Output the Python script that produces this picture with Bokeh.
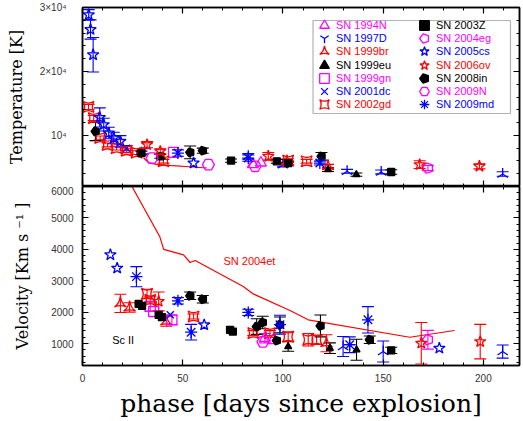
import math
from bokeh.plotting import figure
from bokeh.models import (ColumnDataSource, Whisker, TeeHead, LinearAxis, FixedTicker,
                          Legend, LegendItem, Range1d, BoxAnnotation, Label,
                          CustomLabelingPolicy)
from bokeh.layouts import column
from bokeh.embed import file_html
from bokeh.resources import INLINE

# ---------------- data ----------------
# Temperature panel (day, K, error) and velocity panel (day, km/s, error)
sn1994n_t_day = [85.0, 89.0]
sn1994n_t = [5450, 5700]
sn1994n_t_err = [0, 0]
sn1994n_v_day = [91.0, 95.0]
sn1994n_v = [1170, 1100]
sn1994n_v_err = [150, 0]

sn1997d_t_day = [82.7, 100.0, 132.0, 149.0, 209.6]
sn1997d_t = [6720, 5420, 4380, 4270, 3950]
sn1997d_t_err = [450, 350, 300, 300, 350]
sn1997d_v_day = [130.0, 150.0, 209.6]
sn1997d_v = [905, 745, 745]
sn1997d_v_err = [320, 335, 210]

sn1999br_t_day = [102.0, 122.5]
sn1999br_t = [5900, 5160]
sn1999br_t_err = [300, 300]
sn1999br_v_day = [18.9, 23.5, 41.8, 121.7]
sn1999br_v = [2280, 2150, 1700, 1010]
sn1999br_v_err = [290, 150, 150, 270]

sn1999eu_t_day = [122.5, 136.6]
sn1999eu_t = [4640, 3860]
sn1999eu_t_err = [300, 250]
sn1999eu_v_day = [102.6, 123.4, 136.7]
sn1999eu_v = [905, 850, 800]
sn1999eu_v_err = [150, 170, 335]

sn1999gn_t_day = [45.4]
sn1999gn_t = [7340]
sn1999gn_t_err = [0]
sn1999gn_v_day = [33.8, 35.5, 44.6]
sn1999gn_v = [2180, 2020, 1750]
sn1999gn_v_err = [150, 0, 150]

sn2001dc_t_day = [22.0, 30.0]
sn2001dc_t = [8000, 7500]
sn2001dc_t_err = [400, 400]
sn2001dc_v_day = [43.8]
sn2001dc_v = [1915]
sn2001dc_v_err = [0]

sn2002gd_t_day = [3.0, 5.6, 8.8, 12.5, 17.0, 22.0, 27.0, 40.4, 102.6, 111.8]
sn2002gd_t = [14450, 12700, 9600, 8500, 8000, 7600, 7300, 5950, 6050, 5950]
sn2002gd_t_err = [400, 400, 300, 300, 300, 300, 300, 300, 300, 300]
sn2002gd_v_day = [32.2, 33.8, 55.4, 85.2, 93.5, 102.6, 112.6, 116.8]
sn2002gd_v = [2580, 2390, 1860, 1330, 1330, 1220, 1120, 1120]
sn2002gd_v_err = [150, 100, 80, 80, 80, 150, 200, 150]

sn2003z_t_day = [29.4, 38.8, 74.1, 96.9, 102.6, 154.0]
sn2003z_t = [7230, 6720, 6050, 5940, 5670, 4270]
sn2003z_t_err = [300, 300, 250, 300, 300, 350]
sn2003z_v_day = [28.0, 29.7, 38.0, 39.6, 73.6, 75.0, 154.0]
sn2003z_v = [2260, 2200, 1910, 1840, 1435, 1380, 780]
sn2003z_v_err = [0, 0, 0, 0, 0, 0, 100]

sn2004eg_t_day = [172.3]
sn2004eg_t = [4890]
sn2004eg_t_err = [400]
sn2004eg_v_day = [172.3]
sn2004eg_v = [1120]
sn2004eg_v_err = [300]

sn2005cs_t_day = [3.1, 4.0, 5.3, 8.6, 10.6, 13.1, 15.6, 18.9, 55.4]
sn2005cs_t = [28860, 26560, 22600, 12800, 11670, 10360, 9580, 9060, 5670]
sn2005cs_t_err = [800, 1500, 2700, 1500, 1000, 900, 900, 900, 0]
sn2005cs_v_day = [13.9, 17.3, 60.7, 178.0]
sn2005cs_v = [3825, 3400, 1595, 850]
sn2005cs_v_err = [0, 0, 0, 0]

sn2006ov_t_day = [32.2, 38.8, 92.7, 168.2, 198.0]
sn2006ov_t = [8550, 7500, 6720, 5420, 5160]
sn2006ov_t_err = [500, 400, 600, 600, 400]
sn2006ov_v_day = [38.0, 169.0, 198.4]
sn2006ov_v = [2340, 1010, 1060]
sn2006ov_v_err = [300, 660, 550]

sn2008in_t_day = [6.5, 53.7, 60.0, 119.2]
sn2008in_t = [10625, 7340, 7600, 6720]
sn2008in_t_err = [1450, 1000, 400, 600]
sn2008in_v_day = [53.7, 60.0, 86.9, 89.9, 96.9, 98.5, 118.7, 143.3]
sn2008in_v = [2520, 2410, 1540, 1670, 1095, 1595, 1560, 1120]
sn2008in_v_err = [120, 120, 250, 200, 0, 250, 350, 120]

sn2009n_t_day = [34.7, 62.8, 86.1]
sn2009n_t = [6450, 5420, 5160]
sn2009n_t_err = [0, 0, 0]
sn2009n_v_day = [90.0]
sn2009n_v = [1050]
sn2009n_v_err = [0]

sn2009md_t_day = [47.6, 82.7, 118.4]
sn2009md_t = [7230, 6450, 5670]
sn2009md_t_err = [500, 500, 300]
sn2009md_v_day = [26.9, 47.6, 54.2, 82.7, 98.5, 133.3, 142.4]
sn2009md_v = [3130, 2360, 1360, 1990, 1600, 960, 1755]
sn2009md_v_err = [320, 100, 250, 100, 300, 250, 420]

# SN 2004et comparison curves
sn2004et_t_day = [30.5, 33.0, 37.0, 45.0, 55.0, 62.0]
sn2004et_t = [6450, 5700, 5450, 5250, 5050, 4890]
sn2004et_v_day = [20.0, 38.5, 40.5, 50.4, 53.7, 56.2, 80.2, 85.2, 103.5, 112.6, 163.2, 185.6]
sn2004et_v = [6540, 4410, 4000, 3825, 3580, 3645, 2815, 2580, 2050, 1755, 1200, 1415]

# axis ticks
x_ticks = [0, 50, 100, 150, 200]
t_ticks = [10000, 20000, 30000]
t_tick_labels = ["10⁴", "2×10⁴", "3×10⁴"]
v_ticks = [1000, 2000, 3000, 4000, 5000, 6000]

MAG, BLU, RED, BLK = "#ff00ff", "#0000ff", "#ff0000", "#000000"

series = [
    ("SN 1994N", MAG, "triangle", False, 11, sn1994n_t_day, sn1994n_t, sn1994n_t_err, sn1994n_v_day, sn1994n_v, sn1994n_v_err),
    ("SN 1997D", BLU, "y", False, 12, sn1997d_t_day, sn1997d_t, sn1997d_t_err, sn1997d_v_day, sn1997d_v, sn1997d_v_err),
    ("SN 1999br", RED, "triangle_pin", False, 12, sn1999br_t_day, sn1999br_t, sn1999br_t_err, sn1999br_v_day, sn1999br_v, sn1999br_v_err),
    ("SN 1999eu", BLK, "triangle", True, 7, sn1999eu_t_day, sn1999eu_t, sn1999eu_t_err, sn1999eu_v_day, sn1999eu_v, sn1999eu_v_err),
    ("SN 1999gn", MAG, "square", False, 10, sn1999gn_t_day, sn1999gn_t, sn1999gn_t_err, sn1999gn_v_day, sn1999gn_v, sn1999gn_v_err),
    ("SN 2001dc", BLU, "x", False, 10, sn2001dc_t_day, sn2001dc_t, sn2001dc_t_err, sn2001dc_v_day, sn2001dc_v, sn2001dc_v_err),
    ("SN 2002gd", RED, "square_pin", False, 11, sn2002gd_t_day, sn2002gd_t, sn2002gd_t_err, sn2002gd_v_day, sn2002gd_v, sn2002gd_v_err),
    ("SN 2003Z", BLK, "square", True, 7, sn2003z_t_day, sn2003z_t, sn2003z_t_err, sn2003z_v_day, sn2003z_v, sn2003z_v_err),
    ("SN 2004eg", MAG, "pentagon", False, 11, sn2004eg_t_day, sn2004eg_t, sn2004eg_t_err, sn2004eg_v_day, sn2004eg_v, sn2004eg_v_err),
    ("SN 2005cs", BLU, "star", False, 12, sn2005cs_t_day, sn2005cs_t, sn2005cs_t_err, sn2005cs_v_day, sn2005cs_v, sn2005cs_v_err),
    ("SN 2006ov", RED, "star", False, 12, sn2006ov_t_day, sn2006ov_t, sn2006ov_t_err, sn2006ov_v_day, sn2006ov_v, sn2006ov_v_err),
    ("SN 2008in", BLK, "pentagon", True, 9, sn2008in_t_day, sn2008in_t, sn2008in_t_err, sn2008in_v_day, sn2008in_v, sn2008in_v_err),
    ("SN 2009N", MAG, "hex", False, 12, sn2009n_t_day, sn2009n_t, sn2009n_t_err, sn2009n_v_day, sn2009n_v, sn2009n_v_err),
    ("SN 2009md", BLU, "asterisk", False, 12, sn2009md_t_day, sn2009md_t, sn2009md_t_err, sn2009md_v_day, sn2009md_v, sn2009md_v_err),
]

X_RANGE = (0, 218)
T_RANGE = (2000, 30000)
V_RANGE = (300, 6000)
FRAME_W = 437
TOP_H = 179
BOT_H = 179
LEFT = 82
TOP = 7
TICK_FONT = "Liberation Sans"
SERIF = "DejaVu Serif"

NO_LABELS = "for (const i of Array.from(indices)) indices.unset(i); return indices"


def style_axis(ax, labels=True, standoff=5):
    ax.major_tick_in = 6
    ax.major_tick_out = 0
    ax.minor_tick_in = 3
    ax.minor_tick_out = 0
    ax.axis_line_width = 1.5
    ax.axis_line_color = "black"
    ax.major_tick_line_color = "black"
    ax.minor_tick_line_color = "black"
    ax.major_tick_line_width = 1.2
    ax.minor_tick_line_width = 1
    if labels:
        ax.major_label_text_font = TICK_FONT
        ax.major_label_text_font_size = "10px"
        ax.major_label_text_color = "#333333"
        ax.major_label_standoff = standoff
    else:
        ax.major_label_text_font_size = "0px"
        ax.major_label_standoff = 0
        ax.major_label_policy = CustomLabelingPolicy(code=NO_LABELS)
        ax.axis_label = None


def xticker():
    return FixedTicker(ticks=x_ticks, minor_ticks=list(range(0, 220, 10)))


def tticker():
    return FixedTicker(ticks=t_ticks, minor_ticks=list(range(2000, 30001, 2000)))


def vticker():
    return FixedTicker(ticks=v_ticks, minor_ticks=list(range(400, 6001, 200)))


def make_fig(yrange, h, top_border, bottom_border, yticker_fn, xlabels,
             ytick_standoff, ylabel_standoff):
    p = figure(frame_width=FRAME_W, frame_height=h,
               x_range=Range1d(*X_RANGE), y_range=Range1d(*yrange),
               x_axis_location=None, y_axis_location=None,
               min_border_left=LEFT, min_border_right=3,
               min_border_top=top_border, min_border_bottom=bottom_border,
               output_backend="svg", toolbar_location=None)
    p.xgrid.grid_line_color = None
    p.ygrid.grid_line_color = None
    p.outline_line_color = "black"
    p.outline_line_width = 1.5
    p.background_fill_color = "white"
    p.border_fill_color = "white"

    bottom_ax = LinearAxis(ticker=xticker())
    style_axis(bottom_ax, labels=xlabels, standoff=8)
    p.add_layout(bottom_ax, "below")
    left_ax = LinearAxis(ticker=yticker_fn())
    style_axis(left_ax, labels=True, standoff=ytick_standoff)
    left_ax.axis_label_text_font = SERIF
    left_ax.axis_label_text_font_style = "normal"
    left_ax.axis_label_text_font_size = "16px"
    left_ax.axis_label_text_color = "black"
    left_ax.axis_label_standoff = ylabel_standoff
    p.add_layout(left_ax, "left")
    top_ax = LinearAxis(ticker=xticker())
    style_axis(top_ax, labels=False)
    p.add_layout(top_ax, "above")
    right_ax = LinearAxis(ticker=yticker_fn())
    style_axis(right_ax, labels=False)
    p.add_layout(right_ax, "right")
    return p, left_ax, bottom_ax


def add_series(p, days, vals, errs, color, marker, fill, size):
    lo = [v - e for v, e in zip(vals, errs)]
    up = [v + e for v, e in zip(vals, errs)]
    src = ColumnDataSource(dict(d=days, v=vals, lo=lo, up=up))
    ed = [d for d, e in zip(days, errs) if e > 0]
    if ed:
        esrc = ColumnDataSource(dict(
            d=ed,
            lo=[l for l, e in zip(lo, errs) if e > 0],
            up=[u for u, e in zip(up, errs) if e > 0]))
        w = Whisker(source=esrc, base="d", upper="up", lower="lo", dimension="height",
                    line_color=color, line_width=1.1,
                    upper_head=TeeHead(size=12, line_color=color, line_width=1.1),
                    lower_head=TeeHead(size=12, line_color=color, line_width=1.1))
        p.add_layout(w)
    fc = color if fill else None
    if marker == "pentagon":
        try:
            r = p.ngon(x="d", y="v", radius=size / 2.0, radius_units="screen", n=5,
                       angle=math.pi / 2, source=src, line_color=color, fill_color=fc,
                       line_width=1.3)
        except Exception:
            r = p.scatter(x="d", y="v", source=src, marker="hex", size=size,
                          line_color=color, fill_color=fc, line_width=1.3)
    else:
        ang = math.pi if marker == "y" else 0.0
        r = p.scatter(x="d", y="v", source=src, marker=marker, size=size, angle=ang,
                      line_color=color, fill_color=fc, line_width=1.3)
    return r


# ---------------- top panel: temperature ----------------
p1, p1_left, p1_bottom = make_fig(T_RANGE, TOP_H, TOP, 0, tticker, xlabels=False,
                                  ytick_standoff=16, ylabel_standoff=11)
p1_left.major_label_overrides = {t: s for t, s in zip(t_ticks, t_tick_labels)}
p1_left.axis_label = "Temperature [K]"

p1.line(sn2004et_t_day, sn2004et_t, line_color=RED, line_width=1.2)

top_renderers = []
for (name, color, marker, fill, size, td, tv, te, vd, vv, ve) in series:
    r = add_series(p1, td, tv, te, color, marker, fill, size)
    top_renderers.append((name, color, r))

# legend box and individual coloured entries
p1.add_layout(BoxAnnotation(left=115.0, right=213.5, top=27966, bottom=13420,
                            fill_alpha=0, line_color="black", line_width=1.2))
for i, (name, color, r) in enumerate(top_renderers):
    col, row = divmod(i, 7)
    yc = 25 + row * 13.2
    vx = 230 if col == 0 else 330
    vy = (TOP_H + TOP - 12) - yc
    leg = Legend(items=[LegendItem(label=name, renderers=[r])], location=(vx, vy),
                 orientation="vertical", padding=0, margin=0, spacing=0,
                 glyph_width=24, glyph_height=24, label_height=24, label_standoff=0,
                 label_text_font=TICK_FONT, label_text_font_size="11px",
                 label_text_color=color, border_line_alpha=0,
                 background_fill_alpha=0)
    p1.add_layout(leg)

# ---------------- bottom panel: velocity ----------------
p2, p2_left, p2_bottom = make_fig(V_RANGE, BOT_H, 0, 55, vticker, xlabels=True,
                                  ytick_standoff=9, ylabel_standoff=16)
p2_left.axis_label = "Velocity [Km s ⁻¹ ]"
p2_bottom.axis_label = "phase [days since explosion]"
p2_bottom.axis_label_text_font = SERIF
p2_bottom.axis_label_text_font_style = "normal"
p2_bottom.axis_label_text_font_size = "25px"
p2_bottom.axis_label_text_color = "black"
p2_bottom.axis_label_standoff = 4

p2.line(sn2004et_v_day, sn2004et_v, line_color=RED, line_width=1.2)
for (name, color, marker, fill, size, td, tv, te, vd, vv, ve) in series:
    add_series(p2, vd, vv, ve, color, marker, fill, size)

p2.add_layout(Label(x=70.3, y=3640, text="SN 2004et", text_color=RED,
                    text_font=TICK_FONT, text_font_size="11px", text_baseline="middle"))
p2.add_layout(Label(x=14.8, y=1100, text="Sc II", text_color="black",
                    text_font=TICK_FONT, text_font_size="11px", text_baseline="middle"))

layout = column(p1, p2, spacing=0)
open("out.html", "w").write(file_html(layout, INLINE))
